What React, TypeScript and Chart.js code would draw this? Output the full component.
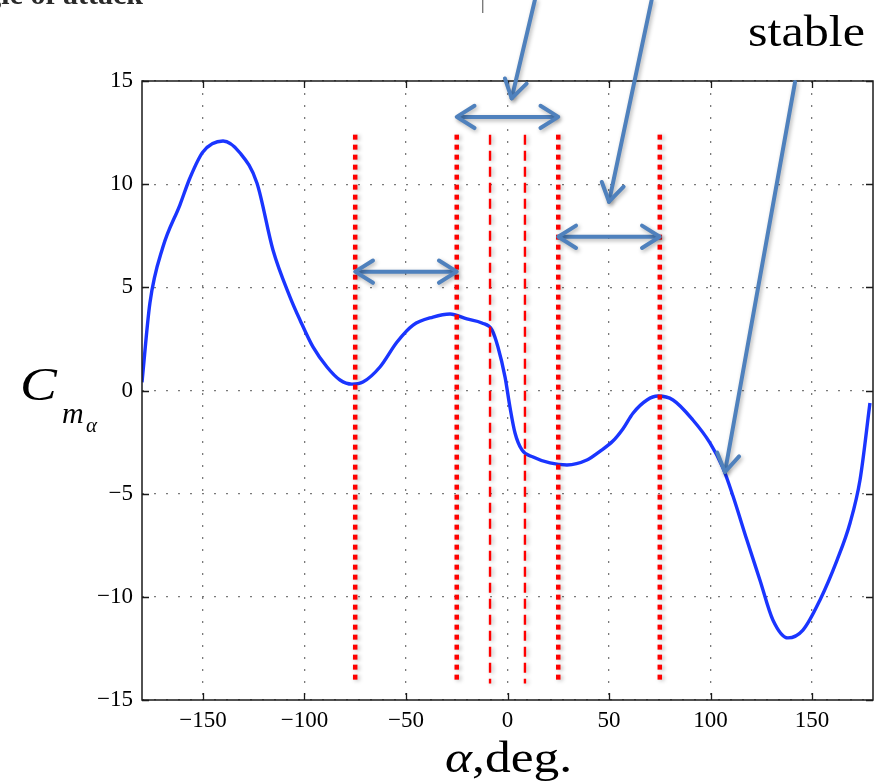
import React, { useEffect, useRef } from "react";
import { Chart, registerables } from "chart.js";

Chart.register(...registerables);

// Pitching-moment curve C_m(alpha)
const curveAlpha = [-180, -176.1, -169.7, -161.3, -156.4, -150, -140.1, -131.7, -123.4, -115.5, -107.1, -102.2, -95.8, -88.9, -82.5, -76.6, -71.2, -62.8, -54.4, -46.5, -36.7, -28.3, -20, -12.6, -7.6, -4.7, -1.2, 1.2, 3.7, 7.1, 12.6, 20.9, 29.3, 39.1, 45.5, 51.9, 56.9, 61.8, 68.7, 74.1, 81.5, 91.3, 99.7, 106.1, 111, 117.9, 124.3, 130.7, 138.1, 145.5, 153.9, 162.3, 168.7, 173.6, 178.5];
const curveCm = [0.4, 4.24, 6.95, 9.0, 10.3, 11.56, 12.09, 11.51, 10.06, 6.81, 4.53, 3.42, 2.11, 1.14, 0.51, 0.31, 0.41, 1.14, 2.35, 3.17, 3.56, 3.71, 3.47, 3.27, 2.93, 2.11, 0.65, -0.8, -2.06, -2.88, -3.22, -3.51, -3.61, -3.37, -2.95, -2.45, -1.85, -1.1, -0.46, -0.27, -0.46, -1.43, -2.54, -3.75, -5.1, -7.25, -9.18, -11.12, -11.99, -11.61, -10.15, -8.22, -6.42, -4.34, -0.61];

// Red marker lines
const boundaryAlpha = [-75, -25, 25, 75];
const trimAlpha = [-8.6, 8.6];
const markerRange = [12.4, -14.2];

// Ticks
const xTickValues = [-150, -100, -50, 0, 50, 100, 150];
const yTickValues = [-15, -10, -5, 0, 5, 10, 15];

// Blue annotation arrows (data units)
const spanFrom = [-75, -25, 25];
const spanTo = [-25, 25, 75];
const spanLevel = [5.76, 13.26, 7.45];
const pointerStartX = [13.5, 71.0, 141.6];
const pointerStartY = [18.93, 18.93, 14.95];
const pointerEndX = [2.06, 50.0, 107.1];
const pointerEndY = [14.16, 9.15, -3.95];

const SERIF = "'Liberation Serif', 'Times New Roman', 'DejaVu Serif', serif";

const fmt = (v: number) => (v < 0 ? "\u2212" + Math.abs(v) : String(v));

function arrowHead(ctx: CanvasRenderingContext2D, tx: number, ty: number, fx: number, fy: number) {
  const len = 21;
  const ang = 0.56;
  const a = Math.atan2(ty - fy, tx - fx);
  ctx.beginPath();
  ctx.moveTo(tx - len * Math.cos(a - ang), ty - len * Math.sin(a - ang));
  ctx.lineTo(tx, ty);
  ctx.lineTo(tx - len * Math.cos(a + ang), ty - len * Math.sin(a + ang));
  ctx.stroke();
}

const decorPlugin = {
  id: "decor",
  beforeDatasetDraw(chart: any, args: any) {
    const ds = chart.data.datasets[args.index];
    const ctx = chart.ctx;
    ctx.save();
    if (ds.glow) {
      ctx.shadowColor = "rgba(0,0,0,0.28)";
      ctx.shadowBlur = 4;
      ctx.shadowOffsetX = 2;
      ctx.shadowOffsetY = 1;
    }
  },
  afterDatasetDraw(chart: any) {
    chart.ctx.restore();
  },
  afterDraw(chart: any) {
    const { ctx, chartArea: a, scales } = chart;
    const x = scales.x;
    const y = scales.y;
    ctx.save();
    ctx.strokeStyle = "#1a1a1a";
    ctx.lineWidth = 1.5;
    ctx.strokeRect(a.left, a.top, a.right - a.left, a.bottom - a.top);
    ctx.lineWidth = 1.3;
    ctx.beginPath();
    xTickValues.forEach((v) => {
      const px = Math.round(x.getPixelForValue(v)) + 0.5;
      ctx.moveTo(px, a.bottom);
      ctx.lineTo(px, a.bottom - 7);
      ctx.moveTo(px, a.top);
      ctx.lineTo(px, a.top + 7);
    });
    yTickValues.forEach((v) => {
      const py = Math.round(y.getPixelForValue(v)) + 0.5;
      ctx.moveTo(a.left, py);
      ctx.lineTo(a.left + 7, py);
      ctx.moveTo(a.right, py);
      ctx.lineTo(a.right - 7, py);
    });
    ctx.stroke();
    ctx.restore();

    ctx.save();
    ctx.strokeStyle = "#4f81bd";
    ctx.lineWidth = 4;
    ctx.lineCap = "round";
    ctx.lineJoin = "round";
    ctx.shadowColor = "rgba(0,0,0,0.3)";
    ctx.shadowBlur = 4;
    ctx.shadowOffsetX = 1.5;
    ctx.shadowOffsetY = 2;
    spanFrom.forEach((f, i) => {
      const x1 = x.getPixelForValue(f);
      const x2 = x.getPixelForValue(spanTo[i]);
      const py = y.getPixelForValue(spanLevel[i]);
      ctx.beginPath();
      ctx.moveTo(x1 + 2, py);
      ctx.lineTo(x2 - 2, py);
      ctx.stroke();
      arrowHead(ctx, x1, py, x2, py);
      arrowHead(ctx, x2, py, x1, py);
    });
    pointerStartX.forEach((sx, i) => {
      const x1 = x.getPixelForValue(sx);
      const y1 = y.getPixelForValue(pointerStartY[i]);
      const x2 = x.getPixelForValue(pointerEndX[i]);
      const y2 = y.getPixelForValue(pointerEndY[i]);
      ctx.beginPath();
      ctx.moveTo(x1, y1);
      ctx.lineTo(x2, y2);
      ctx.stroke();
      arrowHead(ctx, x2, y2, x1, y1);
    });
    ctx.restore();
  },
};

export default function App() {
  const ref = useRef<HTMLCanvasElement | null>(null);

  useEffect(() => {
    if (!ref.current) return;
    const curve = curveAlpha.map((a, i) => ({ x: a, y: curveCm[i] }));
    const datasets: any[] = [
      {
        data: curve,
        borderColor: "#1a35ff",
        borderWidth: 3.4,
        pointRadius: 0,
        cubicInterpolationMode: "monotone",
        order: 3,
      },
    ];
    boundaryAlpha.forEach((a) => {
      datasets.push({
        data: markerRange.map((v) => ({ x: a, y: v })),
        borderColor: "#ff0000",
        borderWidth: 4.5,
        borderDash: [5, 5],
        pointRadius: 0,
        glow: true,
        order: 1,
      });
    });
    trimAlpha.forEach((a) => {
      datasets.push({
        data: markerRange.map((v) => ({ x: a, y: v })),
        borderColor: "#ff0000",
        borderWidth: 2.4,
        borderDash: [10, 6],
        pointRadius: 0,
        glow: true,
        order: 2,
      });
    });

    const chart = new Chart(ref.current, {
      type: "line",
      data: { datasets },
      plugins: [decorPlugin as any],
      options: {
        animation: false,
        responsive: false,
        devicePixelRatio: 1,
        layout: { padding: { top: 81, right: 13, left: 0, bottom: 0 } },
        plugins: { legend: { display: false }, tooltip: { enabled: false } },
        scales: {
          x: {
            type: "linear",
            min: -180,
            max: 180,
            afterBuildTicks: (s: any) => {
              s.ticks = xTickValues.map((v) => ({ value: v }));
            },
            afterFit: (s: any) => {
              s.height = 84;
            },
            grid: { color: "#7a7a7a", lineWidth: 1.3, drawTicks: false },
            border: { display: false, dash: [2, 10] },
            ticks: {
              padding: 7,
              color: "#000",
              font: { family: SERIF, size: 23 },
              callback: (v: any) => fmt(Number(v)),
              maxRotation: 0,
            },
          },
          y: {
            type: "linear",
            min: -15,
            max: 15,
            afterBuildTicks: (s: any) => {
              s.ticks = yTickValues.map((v) => ({ value: v }));
            },
            afterFit: (s: any) => {
              s.width = 142;
            },
            grid: { color: "#7a7a7a", lineWidth: 1.3, drawTicks: false },
            border: { display: false, dash: [2, 10] },
            ticks: {
              padding: 9,
              color: "#000",
              font: { family: SERIF, size: 23 },
              callback: (v: any) => fmt(Number(v)),
            },
          },
        },
      },
    });
    return () => chart.destroy();
  }, []);

  const txt = (extra: React.CSSProperties): React.CSSProperties => ({
    position: "absolute",
    fontFamily: SERIF,
    lineHeight: 1,
    whiteSpace: "nowrap",
    color: "#000",
    transformOrigin: "0 0",
    ...extra,
  });

  return (
    <div style={{ position: "absolute", left: 0, top: 0, width: 886, height: 784, overflow: "hidden", background: "#fff" }}>
      <canvas ref={ref} width={886} height={784} style={{ position: "absolute", left: 0, top: 0, width: 886, height: 784 }} />
      <div style={txt({ right: 743, top: -21, fontSize: 30, color: "#2a2a2a", fontWeight: "bold" })}>Angle of attack</div>
      <div style={txt({ left: 481, top: -6, fontSize: 18, color: "#333" })}>|</div>
      <div style={txt({ left: 748, top: 10, fontSize: 44, transform: "scaleX(1.14)" })}>stable</div>
      <div style={txt({ left: 445, top: 736, fontSize: 44, transform: "scaleX(1.17)" })}>
        <i>α</i>,deg.
      </div>
      <div style={txt({ left: 20, top: 362, fontSize: 46, fontStyle: "italic", transform: "scaleX(1.2)" })}>C</div>
      <div style={txt({ left: 62, top: 398, fontSize: 30, fontStyle: "italic" })}>m</div>
      <div style={txt({ left: 86, top: 415, fontSize: 21, fontStyle: "italic" })}>α</div>
    </div>
  );
}
